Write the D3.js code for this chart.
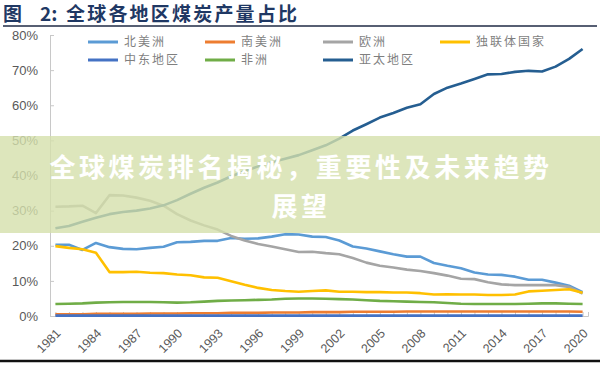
<!DOCTYPE html>
<html>
<head>
<meta charset="utf-8">
<script src="https://cdn.jsdelivr.net/npm/d3@7"></script>
<style>
  html, body { margin: 0; padding: 0; background: #fff; }
  svg { display: block; }
  text { font-family: "Liberation Sans", "Noto Sans CJK SC", sans-serif; }
  .cjk { font-family: "Noto Sans CJK SC", sans-serif; }
</style>
</head>
<body>
<svg id="chart" width="600" height="371"></svg>
<script>
// values, share of world coal output (%), 1981-2020
var years = d3.range(1981, 2021);
var yTicks = [0, 10, 20, 30, 40, 50, 60, 70, 80];
var xLabelYears = d3.range(1981, 2021, 3);

var northAmerica = [20.3,20.3,18.8,20.8,19.6,19.1,19.0,19.4,19.7,21.0,21.1,21.4,21.4,22.2,22.0,22.1,22.6,23.3,23.2,22.6,
  22.5,21.5,19.8,19.2,18.4,17.6,16.9,16.9,15.1,14.3,13.6,12.4,11.8,11.7,11.2,10.3,10.3,9.5,8.6,6.8];
var southAmerica = [0.5,0.5,0.5,0.6,0.6,0.6,0.6,0.7,0.7,0.7,0.8,0.8,0.8,0.9,0.9,0.9,1.0,1.0,1.0,1.1,
  1.1,1.1,1.2,1.2,1.2,1.2,1.3,1.3,1.3,1.3,1.3,1.3,1.3,1.3,1.3,1.3,1.3,1.3,1.3,1.2];
var europe = [31.1,31.2,31.4,29.3,34.4,34.3,33.7,32.8,31.4,29.0,27.2,25.8,24.6,22.8,21.5,20.5,19.8,19.0,18.2,18.3,
  17.9,17.6,16.5,15.2,14.3,13.8,13.2,12.8,12.2,11.5,10.6,10.5,9.6,9.0,8.8,8.8,8.8,8.8,8.3,6.4];
var cis = [19.9,19.4,19.0,18.0,12.5,12.5,12.6,12.3,12.2,11.8,11.6,11.0,10.9,9.9,8.9,8.0,7.4,7.1,6.9,7.1,
  7.3,6.9,6.9,6.8,6.8,6.7,6.7,6.5,6.1,6.2,6.1,6.1,6.0,6.0,6.1,7.0,7.2,7.4,7.6,6.6];
var middleEast = [0.1,0.1,0.1,0.1,0.1,0.1,0.1,0.1,0.1,0.1,0.1,0.1,0.1,0.1,0.1,0.1,0.1,0.1,0.1,0.1,
  0.1,0.1,0.1,0.1,0.1,0.1,0.1,0.1,0.1,0.1,0.1,0.1,0.1,0.1,0.1,0.1,0.1,0.1,0.1,0.1];
var africa = [3.4,3.5,3.6,3.8,3.9,4.0,4.0,4.0,3.9,3.8,3.9,4.1,4.3,4.4,4.5,4.6,4.7,4.9,5.0,5.0,
  4.9,4.8,4.7,4.5,4.3,4.2,4.1,4.0,3.9,3.7,3.5,3.4,3.4,3.4,3.4,3.5,3.6,3.6,3.5,3.4];
var asiaPacific = [25.0,25.6,26.8,28.0,29.0,29.6,30.0,30.6,31.5,33.0,34.8,36.5,38.0,39.8,41.2,42.6,43.8,44.8,45.8,47.2,
  48.6,50.5,52.8,54.6,56.5,57.8,59.3,60.3,63.2,65.0,66.2,67.5,68.8,68.9,69.5,69.8,69.6,71.0,73.2,76.0];

var seriesNames = ["北美洲", "南美洲", "欧洲", "独联体国家", "中东地区", "非洲", "亚太地区"];
var seriesValues = [northAmerica, southAmerica, europe, cis, middleEast, africa, asiaPacific];
var seriesColours = ["#5b9bd5", "#ed7d31", "#a5a5a5", "#ffc000", "#4472c4", "#70ad47", "#255e91"];

var svg = d3.select("#chart");

var x = d3.scaleLinear().domain([1980.6, 2020.4]).range([50, 588]);
var y = d3.scaleLinear().domain([0, 80]).range([316, 35]);

// title and rules
var title = svg.append("text")
  .attr("class", "cjk")
  .attr("y", 21)
  .attr("font-size", 19).attr("font-weight", "bold")
  .attr("fill", "#1f3864");
title.append("tspan").attr("x", 3).text("图");
title.append("tspan").attr("x", 40).text("2:");
title.append("tspan").attr("x", 66).attr("letter-spacing", 2.2).text("全球各地区煤炭产量占比");
svg.append("line").attr("x1", 3).attr("x2", 597).attr("y1", 26).attr("y2", 26)
  .attr("stroke", "#1f2a44").attr("stroke-width", 1.5);
svg.append("line").attr("x1", 0).attr("x2", 600).attr("y1", 361).attr("y2", 361)
  .attr("stroke", "#111").attr("stroke-width", 2.5);

// y axis
var yAxis = svg.append("g")
  .attr("transform", "translate(50,0)")
  .call(d3.axisLeft(y).tickValues(yTicks).tickSize(-4).tickPadding(12)
    .tickFormat(function(d){return d + "%";}));
yAxis.select(".domain").attr("stroke", "#c8c8c8");
yAxis.selectAll(".tick line").attr("stroke", "#c8c8c8");
yAxis.selectAll("text").attr("font-size", 13).attr("fill", "#595959")
  .attr("font-family", "Liberation Sans, sans-serif");

// x axis: small ticks every year, labels every 3 years
var xAxis = svg.append("g")
  .attr("transform", "translate(0,316)")
  .call(d3.axisBottom(x).tickValues(years).tickSize(-4).tickFormat(""));
xAxis.select(".domain").attr("stroke", "#c8c8c8");
xAxis.selectAll(".tick line").attr("stroke", "#c8c8c8");

svg.append("g").selectAll("text")
  .data(xLabelYears)
  .enter().append("text")
  .attr("transform", function(d){return "translate(" + (x(d) + 3) + ",331) rotate(-45)";})
  .attr("text-anchor", "end")
  .attr("dy", "0.35em")
  .attr("font-size", 12.5)
  .attr("fill", "#595959")
  .text(function(d){return d;});

// lines
var line = d3.line()
  .x(function(d, i){return x(years[i]);})
  .y(function(d){return y(d);});

svg.append("g").selectAll("path")
  .data(seriesValues)
  .enter().append("path")
  .attr("d", line)
  .attr("fill", "none")
  .attr("stroke", function(d, i){return seriesColours[i];})
  .attr("stroke-width", 2.6)
  .attr("stroke-linejoin", "round");

// legend, two rows
var legendX = [88, 205, 323, 440];
var legend = svg.append("g").selectAll("g")
  .data(seriesNames)
  .enter().append("g")
  .attr("transform", function(d, i){
    return "translate(" + legendX[i % 4] + "," + (i < 4 ? 42 : 60) + ")";
  });
legend.append("line")
  .attr("x1", 0).attr("x2", 30)
  .attr("stroke", function(d, i){return seriesColours[i];})
  .attr("stroke-width", 3);
legend.append("text")
  .attr("class", "cjk")
  .attr("x", 36).attr("dy", "0.36em")
  .attr("font-size", 12).attr("letter-spacing", 2)
  .attr("fill", "#7f7f7f")
  .text(function(d){return d;});

// translucent banner across the chart
svg.append("rect")
  .attr("x", 0).attr("y", 136).attr("width", 600).attr("height", 97)
  .attr("fill", "rgb(212,224,171)").attr("opacity", 0.8);
var bannerLines = ["全球煤炭排名揭秘，重要性及未来趋势", "展望"];
svg.append("g").selectAll("text")
  .data(bannerLines)
  .enter().append("text")
  .attr("class", "cjk")
  .attr("x", 301)
  .attr("y", function(d, i){return 177 + i * 39;})
  .attr("text-anchor", "middle")
  .attr("font-size", 26).attr("font-weight", "bold")
  .attr("letter-spacing", 3.6)
  .attr("fill", "#fff")
  .text(function(d){return d;});
</script>
</body>
</html>
